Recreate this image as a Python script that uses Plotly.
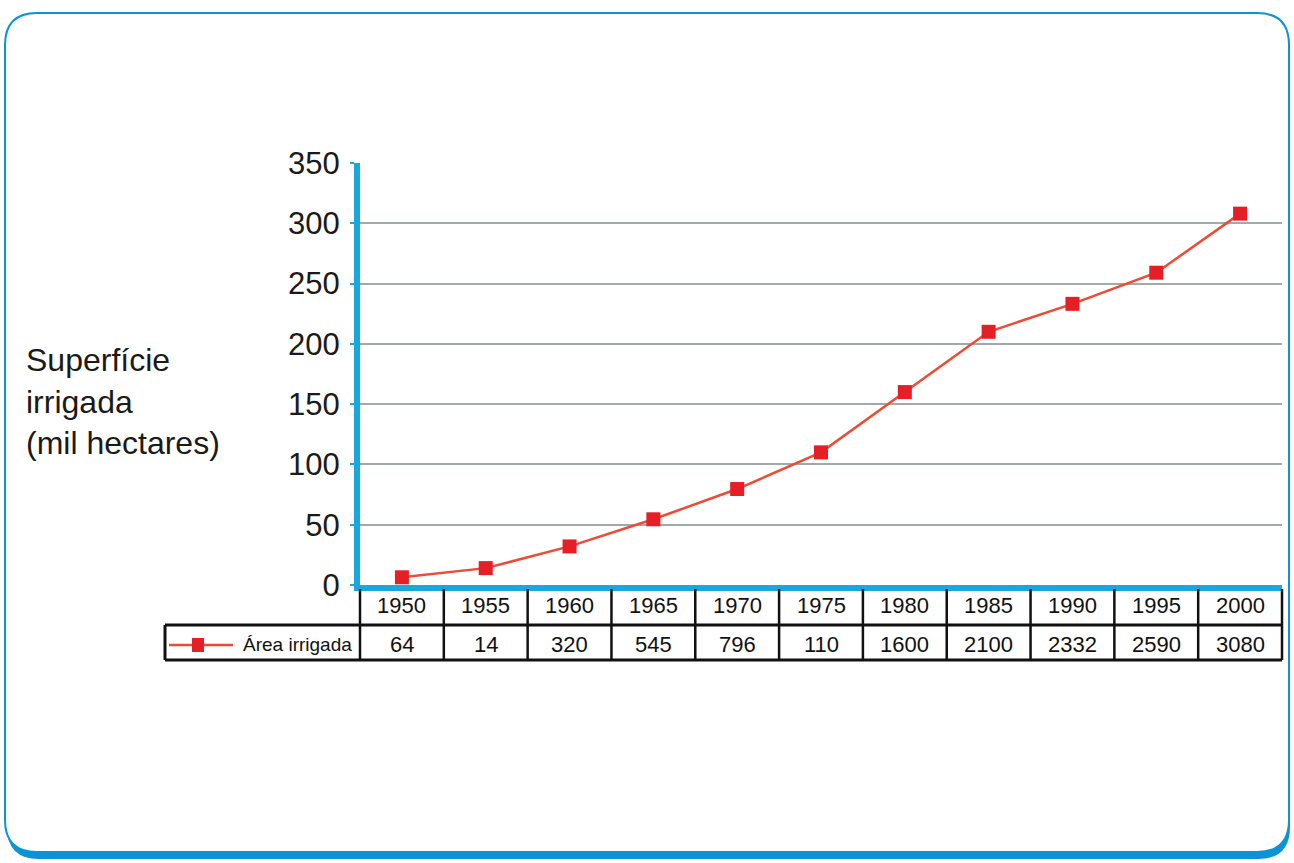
import plotly.graph_objects as go

# Irrigated area series
anos = ["1950", "1955", "1960", "1965", "1970", "1975", "1980", "1985", "1990", "1995", "2000"]
area_plotada = [6.4, 14, 32.0, 54.5, 79.6, 110, 160.0, 210.0, 233.2, 259.0, 308.0]
rotulos_tabela = ["64", "14", "320", "545", "796", "110", "1600", "2100", "2332", "2590", "3080"]
y_ticks = [0, 50, 100, 150, 200, 250, 300, 350]

W, H = 1294, 863
L, R, T, B = 360, 1282, 163, 585

AZUL = "#17a8e0"
BORDA = "#0a94d6"
VERMELHO = "#e61e25"
LINHA = "#ef4b34"
FONTE = "Liberation Sans, Arial, sans-serif"


def px(x):
    return (x - L) / (R - L)


def py(y):
    return (B - y) / (B - T)


def rounded_rect(x0, y0, x1, y1, r):
    rx = r / (R - L)
    ry = r / (B - T)
    a, b, c, d = px(x0), py(y1), px(x1), py(y0)  # left, bottom, right, top
    return (f"M {a+rx},{d} L {c-rx},{d} Q {c},{d} {c},{d-ry} "
            f"L {c},{b+ry} Q {c},{b} {c-rx},{b} "
            f"L {a+rx},{b} Q {a},{b} {a},{b+ry} "
            f"L {a},{d-ry} Q {a},{d} {a+rx},{d} Z")


n = len(anos)
xs = list(range(n))

fig = go.Figure()
fig.add_trace(go.Scatter(
    x=xs, y=area_plotada, mode="lines+markers",
    line=dict(color=LINHA, width=2.5),
    marker=dict(symbol="square", size=14, color=VERMELHO),
    cliponaxis=False, showlegend=False, hoverinfo="skip",
))

shapes = []
# card frame: shadow then white face
shapes.append(dict(type="path", xref="paper", yref="paper", layer="below",
                   path=rounded_rect(7, 18, 1290, 859, 32),
                   fillcolor=BORDA, line=dict(width=0)))
shapes.append(dict(type="path", xref="paper", yref="paper", layer="below",
                   path=rounded_rect(5, 13, 1289, 852, 32),
                   fillcolor="white", line=dict(color=BORDA, width=2)))

# data table under the x axis
row_top, row_mid, row_bot = 589, 625, 660
leg_left = 165
for i in range(n + 1):
    xp = i / n
    shapes.append(dict(type="line", xref="paper", yref="paper",
                       x0=xp, x1=xp, y0=py(row_top), y1=py(row_bot),
                       line=dict(color="#111", width=2.5)))
shapes.append(dict(type="line", xref="paper", yref="paper",
                   x0=px(leg_left), x1=1, y0=py(row_mid), y1=py(row_mid),
                   line=dict(color="#111", width=3)))
shapes.append(dict(type="line", xref="paper", yref="paper",
                   x0=px(leg_left), x1=1, y0=py(row_bot), y1=py(row_bot),
                   line=dict(color="#111", width=3)))
shapes.append(dict(type="line", xref="paper", yref="paper",
                   x0=px(leg_left), x1=px(leg_left), y0=py(row_mid), y1=py(row_bot),
                   line=dict(color="#111", width=3)))
# legend key inside the table
shapes.append(dict(type="line", xref="paper", yref="paper",
                   x0=px(169), x1=px(233), y0=py(645), y1=py(645),
                   line=dict(color=LINHA, width=2.5)))
shapes.append(dict(type="rect", xref="paper", yref="paper",
                   x0=px(192), x1=px(204), y0=py(638), y1=py(652),
                   fillcolor=VERMELHO, line=dict(width=0)))

annotations = []
for i in range(n):
    xc = (i + 0.5) / n
    annotations.append(dict(x=xc, y=py(605), xref="paper", yref="paper",
                            xanchor="center", yanchor="middle",
                            text=anos[i], showarrow=False,
                            font=dict(family=FONTE, size=22, color="#111")))
    annotations.append(dict(x=xc, y=py(644), xref="paper", yref="paper",
                            xanchor="center", yanchor="middle",
                            text=rotulos_tabela[i], showarrow=False,
                            font=dict(family=FONTE, size=22, color="#111")))
annotations.append(dict(x=px(354), y=py(644), xref="paper", yref="paper",
                        xanchor="right", yanchor="middle", text="Área irrigada", showarrow=False,
                        font=dict(family=FONTE, size=19, color="#111")))
# y axis title
annotations.append(dict(x=px(24), y=py(401), xref="paper", yref="paper",
                        xanchor="left", yanchor="middle", align="left",
                        text="Superfície<br>irrigada<br>(mil hectares)", showarrow=False,
                        font=dict(family=FONTE, size=32, color="#1a1a1a")))

fig.update_layout(
    width=W, height=H,
    margin=dict(l=L, r=W - R, t=T, b=H - B),
    paper_bgcolor="white", plot_bgcolor="rgba(0,0,0,0)",
    shapes=shapes, annotations=annotations,
    xaxis=dict(range=[-0.5, n - 0.5], showgrid=False, zeroline=False,
               showticklabels=False, showline=True, linecolor=AZUL, linewidth=6,
               fixedrange=True),
    yaxis=dict(range=[0, 350], tickvals=y_ticks, showgrid=True, gridcolor="#a2a9ab",
               gridwidth=2, zeroline=False, showline=True, linecolor=AZUL, linewidth=6,
               ticks="outside", ticklen=4, tickcolor=AZUL, tickwidth=2,
               tickfont=dict(family=FONTE, size=31, color="#1a1a1a"),
               ticklabelstandoff=4, fixedrange=True),
    showlegend=False,
)

fig.write_html("out.html")
